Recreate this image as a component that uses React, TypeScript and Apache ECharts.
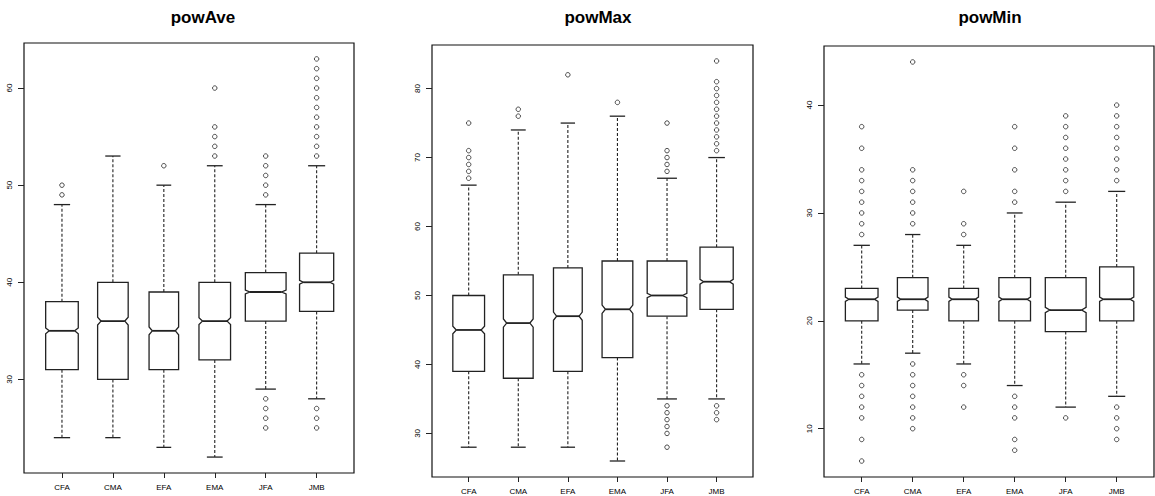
import React, { useEffect, useRef } from "react";
import * as echarts from "echarts";

const categories = ["CFA", "CMA", "EFA", "EMA", "JFA", "JMB"];
const boxWidthFrac = [0.64, 0.6, 0.58, 0.62, 0.8, 0.67];

// powAve
const powAveLow = [24, 24, 23, 22, 29, 28];
const powAveQ1 = [31, 30, 31, 32, 36, 37];
const powAveMed = [35, 36, 35, 36, 39, 40];
const powAveQ3 = [38, 40, 39, 40, 41, 43];
const powAveHigh = [48, 53, 50, 52, 48, 52];
const powAveNotch = [0.3, 0.4, 0.4, 0.35, 0.2, 0.2];
const powAveOutliers = [
  [49, 50],
  [],
  [52],
  [53, 54, 55, 56, 60],
  [25, 26, 27, 28, 49, 50, 51, 52, 53],
  [25, 26, 27, 53, 54, 55, 56, 57, 58, 59, 60, 61, 62, 63],
];
const powAveTicks = [30, 40, 50, 60];

// powMax
const powMaxLow = [28, 28, 28, 26, 35, 35];
const powMaxQ1 = [39, 38, 39, 41, 47, 48];
const powMaxMed = [45, 46, 47, 48, 50, 52];
const powMaxQ3 = [50, 53, 54, 55, 55, 57];
const powMaxHigh = [66, 74, 75, 76, 67, 70];
const powMaxNotch = [0.55, 0.6, 0.6, 0.6, 0.3, 0.35];
const powMaxOutliers = [
  [67, 68, 69, 70, 71, 75],
  [76, 77],
  [82],
  [78],
  [28, 30, 31, 32, 33, 34, 68, 69, 70, 71, 75],
  [32, 33, 34, 71, 72, 73, 74, 75, 76, 77, 78, 79, 80, 81, 84],
];
const powMaxTicks = [30, 40, 50, 60, 70, 80];

// powMin
const powMinLow = [16, 17, 16, 14, 12, 13];
const powMinQ1 = [20, 21, 20, 20, 19, 20];
const powMinMed = [22, 22, 22, 22, 21, 22];
const powMinQ3 = [23, 24, 23, 24, 24, 25];
const powMinHigh = [27, 28, 27, 30, 31, 32];
const powMinNotch = [0.2, 0.2, 0.2, 0.2, 0.25, 0.2];
const powMinOutliers = [
  [7, 9, 11, 12, 13, 14, 15, 28, 29, 30, 31, 32, 33, 34, 36, 38],
  [10, 11, 12, 13, 14, 15, 16, 29, 30, 31, 32, 33, 34, 44],
  [12, 14, 15, 28, 29, 32],
  [8, 9, 11, 12, 13, 31, 32, 34, 36, 38],
  [11, 32, 33, 34, 35, 36, 37, 38, 39],
  [9, 10, 11, 12, 33, 34, 35, 36, 37, 38, 39, 40],
];
const powMinTicks = [10, 20, 30, 40];

const panels = [
  {
    title: "powAve", titleX: 198,
    low: powAveLow, q1: powAveQ1, med: powAveMed, q3: powAveQ3, high: powAveHigh,
    notch: powAveNotch, outliers: powAveOutliers, ticks: powAveTicks,
    yMin: 20.36, yMax: 64.64,
    frame: { left: 24, top: 43, width: 330, height: 430 },
    data: { left: 36.5, width: 305.6 },
  },
  {
    title: "powMax", titleX: 593,
    low: powMaxLow, q1: powMaxQ1, med: powMaxMed, q3: powMaxQ3, high: powMaxHigh,
    notch: powMaxNotch, outliers: powMaxOutliers, ticks: powMaxTicks,
    yMin: 23.68, yMax: 86.32,
    frame: { left: 432, top: 45, width: 321, height: 432 },
    data: { left: 443.9, width: 297.5 },
  },
  {
    title: "powMin", titleX: 985,
    low: powMinLow, q1: powMinQ1, med: powMinMed, q3: powMinQ3, high: powMinHigh,
    notch: powMinNotch, outliers: powMinOutliers, ticks: powMinTicks,
    yMin: 5.52, yMax: 45.48,
    frame: { left: 824, top: 46, width: 330, height: 431 },
    data: { left: 836.2, width: 306 },
  },
];

const LINE = "#222";

function renderBox(params: any, api: any) {
  const i = api.value(0);
  const low = api.value(1), q1 = api.value(2), med = api.value(3), q3 = api.value(4), high = api.value(5);
  const notch = api.value(6), wf = api.value(7);
  const band = api.size([1, 0])[0];
  const hw = (band * wf) / 2;
  const cx = api.coord([i, med])[0];
  const y = (v: number) => api.coord([i, v])[1];
  const yMed = y(med), yQ1 = y(q1), yQ3 = y(q3), yLow = y(low), yHigh = y(high);
  const yNU = y(med + notch), yNL = y(med - notch);
  const ind = hw * 0.22;
  const pts = [
    [cx - hw, yQ1], [cx + hw, yQ1], [cx + hw, yNL], [cx + hw - ind, yMed], [cx + hw, yNU],
    [cx + hw, yQ3], [cx - hw, yQ3], [cx - hw, yNU], [cx - hw + ind, yMed], [cx - hw, yNL],
  ];
  const dashed = { stroke: LINE, lineWidth: 1.1, lineDash: [3, 2] };
  return {
    type: "group",
    children: [
      { type: "line", shape: { x1: cx, y1: yQ3, x2: cx, y2: yHigh }, style: dashed },
      { type: "line", shape: { x1: cx, y1: yQ1, x2: cx, y2: yLow }, style: dashed },
      { type: "line", shape: { x1: cx - hw / 2, y1: yHigh, x2: cx + hw / 2, y2: yHigh }, style: { stroke: LINE, lineWidth: 1.3 } },
      { type: "line", shape: { x1: cx - hw / 2, y1: yLow, x2: cx + hw / 2, y2: yLow }, style: { stroke: LINE, lineWidth: 1.3 } },
      { type: "polygon", shape: { points: pts }, style: { stroke: LINE, lineWidth: 1.3, fill: "#fff" } },
      { type: "line", shape: { x1: cx - hw + ind, y1: yMed, x2: cx + hw - ind, y2: yMed }, style: { stroke: LINE, lineWidth: 1.8 } },
    ],
  };
}

export default function App() {
  const ref = useRef<HTMLDivElement>(null);
  useEffect(() => {
    if (!ref.current) return;
    const chart = echarts.init(ref.current, null, { renderer: "svg" });
    const grid: any[] = [];
    const xAxis: any[] = [];
    const yAxis: any[] = [];
    const series: any[] = [];
    const title: any[] = [];
    panels.forEach((p, k) => {
      title.push({
        text: p.title, left: p.titleX, top: 4, textAlign: "center",
        textStyle: { fontFamily: "Liberation Sans, Arial, sans-serif", fontSize: 17, fontWeight: "bold", color: "#000" },
      });
      grid.push({
        left: p.frame.left, top: p.frame.top, width: p.frame.width, height: p.frame.height,
        show: true, borderColor: "#111", borderWidth: 1.2, backgroundColor: "transparent",
      });
      grid.push({
        left: p.data.left, top: p.frame.top, width: p.data.width, height: p.frame.height,
      });
      xAxis.push({ type: "value", gridIndex: 2 * k, show: false, min: 0, max: 1 });
      xAxis.push({
        type: "category", gridIndex: 2 * k + 1, data: categories, boundaryGap: true,
        axisLine: { show: false },
        axisTick: { show: true, alignWithLabel: true, length: 5, lineStyle: { color: LINE, width: 1 } },
        axisLabel: { fontSize: 8, color: "#000", margin: 10, fontFamily: "Liberation Sans, Arial, sans-serif" },
      });
      yAxis.push({
        type: "value", gridIndex: 2 * k, min: p.yMin, max: p.yMax,
        axisLine: { show: false },
        splitLine: { show: false },
        axisTick: { show: true, length: 6, customValues: p.ticks, lineStyle: { color: LINE, width: 1 } },
        axisLabel: {
          rotate: 90, fontSize: 8, color: "#000", margin: 11, customValues: p.ticks,
          fontFamily: "Liberation Sans, Arial, sans-serif",
        },
      });
      yAxis.push({ type: "value", gridIndex: 2 * k + 1, min: p.yMin, max: p.yMax, show: false, splitLine: { show: false } });
      const boxData = categories.map((_, i) => [i, p.low[i], p.q1[i], p.med[i], p.q3[i], p.high[i], p.notch[i], boxWidthFrac[i]]);
      series.push({
        type: "custom", xAxisIndex: 2 * k + 1, yAxisIndex: 2 * k + 1,
        renderItem: renderBox, data: boxData, encode: { x: 0, y: [1, 5] }, silent: true,
      });
      const outData: number[][] = [];
      p.outliers.forEach((arr, i) => arr.forEach((v) => outData.push([i, v])));
      series.push({
        type: "scatter", xAxisIndex: 2 * k + 1, yAxisIndex: 2 * k + 1, data: outData,
        symbol: "circle", symbolSize: 4.5,
        itemStyle: { color: "#fff", borderColor: LINE, borderWidth: 1 }, silent: true,
      });
    });
    chart.setOption({ animation: false, backgroundColor: "#fff", title, grid, xAxis, yAxis, series });
    return () => chart.dispose();
  }, []);
  return <div ref={ref} style={{ position: "absolute", left: 0, top: 0, width: 1155, height: 496 }} />;
}
